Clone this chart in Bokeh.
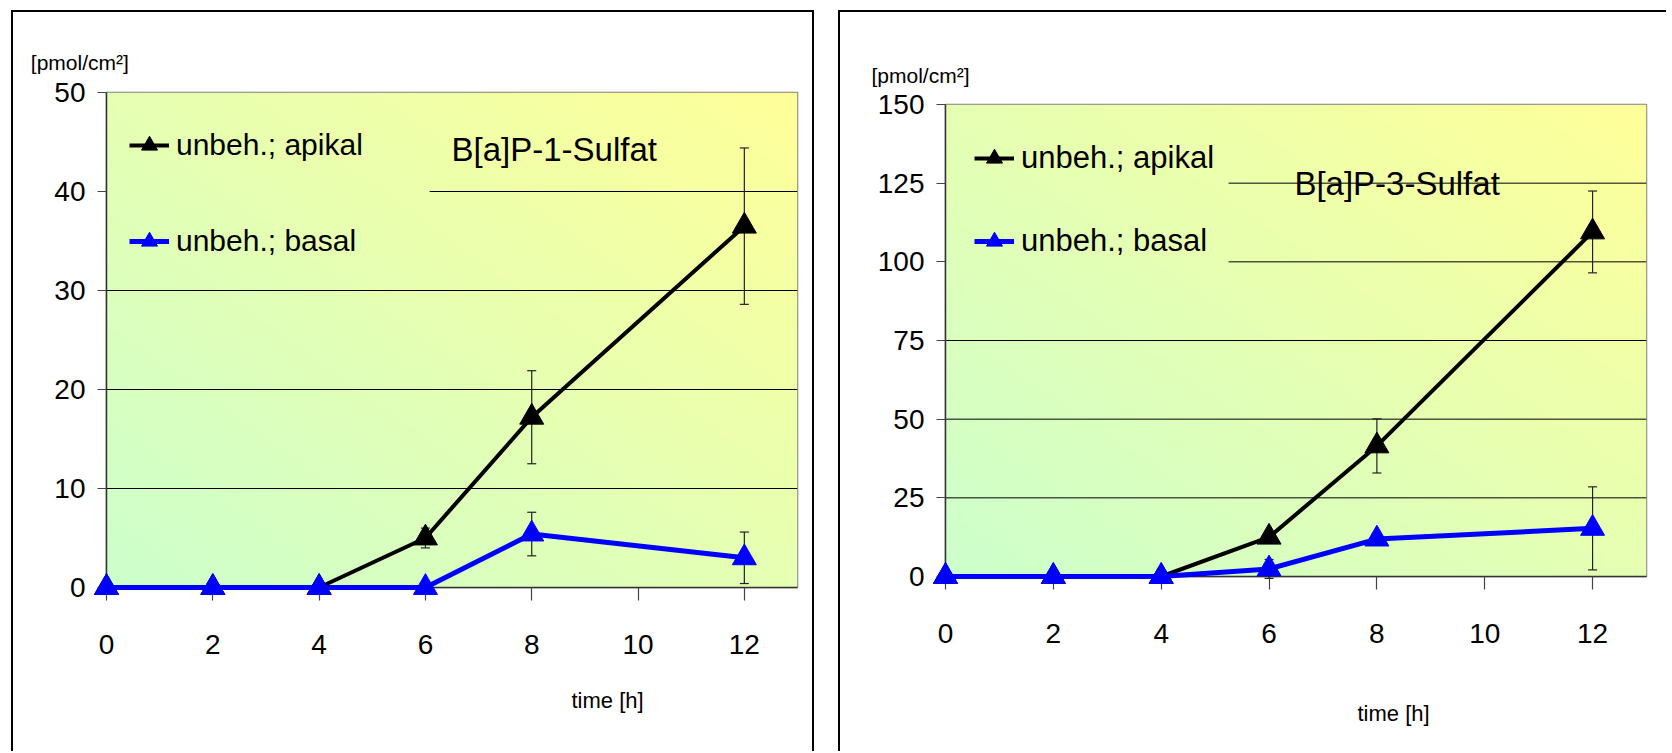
import numpy as np
from bokeh.plotting import figure
from bokeh.layouts import row
from bokeh.models import Range1d, FixedTicker, Label, Title
from bokeh.embed import file_html
from bokeh.resources import INLINE

# ---------------- data ----------------
TIME_H = [0, 2, 4, 6, 8, 12]
X_TICKS = [0, 2, 4, 6, 8, 10, 12]
SERIES_NAMES = ["unbeh.; apikal", "unbeh.; basal"]
Y_UNIT = "[pmol/cm²]"
X_LABEL = "time [h]"

S1_TITLE = "B[a]P-1-Sulfat"
S1_Y_TICKS = [0, 10, 20, 30, 40, 50]
S1_APIKAL = [0, 0, 0, 5.0, 17.2, 36.5]
S1_APIKAL_ERR = [0, 0, 0, 1.0, 4.7, 7.9]
S1_BASAL = [0, 0, 0, 0, 5.4, 3.0]
S1_BASAL_ERR = [0, 0, 0, 0, 2.2, 2.6]

S3_TITLE = "B[a]P-3-Sulfat"
S3_Y_TICKS = [0, 25, 50, 75, 100, 125, 150]
S3_APIKAL = [0, 0, 0, 12.5, 41.5, 109.5]
S3_APIKAL_ERR = [0, 0, 0, 1.5, 8.6, 13.0]
S3_BASAL = [0, 0, 0, 2.4, 11.9, 15.3]
S3_BASAL_ERR = [0, 0, 0, 3.0, 1.5, 13.2]

# ---------------- style ----------------
FONT = "Liberation Sans"
X_MAX = 13
COLORS = ["#000000", "#0000FF"]
LINE_W = [4, 5]


def gradient(nx=256, ny=256):
    u = np.linspace(0, 1, nx)[None, :]
    v = np.linspace(0, 1, ny)[:, None]
    t = (u + v) / 2.0
    c0 = np.array([0xCC, 0xFF, 0xCC], dtype=float)
    c1 = np.array([0xFF, 0xFF, 0x99], dtype=float)
    rgb = c0[None, None, :] + t[..., None] * (c1 - c0)[None, None, :]
    img = np.empty((ny, nx), dtype=np.uint32)
    view = img.view(dtype=np.uint8).reshape((ny, nx, 4))
    view[..., 0:3] = rgb.round().astype(np.uint8)
    view[..., 3] = 255
    return img


def panel(cfg):
    p = figure(width=cfg["width"], height=cfg["height"],
               x_range=Range1d(0, X_MAX), y_range=Range1d(0, cfg["y_ticks"][-1]),
               output_backend="svg", toolbar_location=None,
               min_border_left=cfg["borders"][0], min_border_right=cfg["borders"][1],
               min_border_top=cfg["borders"][2], min_border_bottom=cfg["borders"][3],
               frame_align=False, styles=cfg["styles"])
    p.outline_line_color = "#808080"
    p.outline_line_width = 1.5
    p.xgrid.visible = False
    p.ygrid.visible = False

    p.image_rgba(image=[gradient()], x=0, y=0, dw=X_MAX, dh=cfg["y_ticks"][-1], level="image")

    gy = cfg["y_ticks"][1:-1]
    p.segment(x0=cfg["grid_start"], y0=gy, x1=[X_MAX] * len(gy), y1=gy,
              line_color="#000000", line_width=1)

    p.xaxis.ticker = FixedTicker(ticks=X_TICKS)
    p.yaxis.ticker = FixedTicker(ticks=cfg["y_ticks"])
    for ax in (p.xaxis[0], p.yaxis[0]):
        ax.axis_line_color = "#333333"
        ax.axis_line_width = 1.5
        ax.major_tick_line_color = "#444444"
        ax.major_tick_line_width = 1.2
        ax.major_tick_in = 0
        ax.minor_tick_line_color = None
        ax.major_label_text_font = FONT
        ax.major_label_text_font_size = "28px"
        ax.major_label_text_color = "#000000"
    p.xaxis.major_tick_out = 13
    p.yaxis.major_tick_out = 9
    p.xaxis.major_label_standoff = 34
    p.yaxis.major_label_standoff = 12

    for vals, errs in zip(cfg["values"], cfg["errors"]):
        idx = [i for i, e in enumerate(errs) if e > 0]
        xs = [TIME_H[i] for i in idx]
        hi = [vals[i] + errs[i] for i in idx]
        lo = [vals[i] - errs[i] for i in idx]
        p.segment(x0=xs, y0=lo, x1=xs, y1=hi, line_color="#222222", line_width=1.2, level="overlay")
        p.scatter(xs, hi, marker="dash", size=9, line_color="#222222", line_width=1.2, level="overlay")
        p.scatter(xs, lo, marker="dash", size=9, line_color="#222222", line_width=1.2, level="overlay")
    for vals, name, col, lw in zip(cfg["values"], SERIES_NAMES, COLORS, LINE_W):
        p.line(TIME_H, vals, line_color=col, line_width=lw, legend_label=name, level="overlay")
        p.scatter(TIME_H, vals, marker="triangle", size=24, fill_color=col, line_color=col,
                  legend_label=name, level="overlay")

    lg = p.legend[0]
    lg.location = cfg["legend_loc"]
    lg.padding = 0
    lg.margin = 0
    lg.spacing = cfg["legend_spacing"]
    lg.glyph_width = 40
    lg.glyph_height = 44
    lg.label_height = 44
    lg.label_standoff = 7
    lg.label_text_font = FONT
    lg.label_text_font_size = cfg["legend_font"]
    lg.label_text_color = "#000000"
    lg.background_fill_alpha = 0
    lg.border_line_color = None

    tx, ty = cfg["title_pos"]
    p.add_layout(Label(x=tx, y=ty, text=cfg["title"], text_font=FONT, text_font_size="33px",
                       text_color="#000000", text_align="left", text_baseline="alphabetic"))
    uo, us = cfg["unit_title"]
    p.add_layout(Title(text=Y_UNIT, align="left", offset=uo, standoff=us, text_font=FONT,
                       text_font_size="21px", text_font_style="normal", text_color="#000000"),
                 "above")
    xo, gap = cfg["xlabel_title"]
    # invisible spacer between the x axis and its label
    p.add_layout(Title(text=" ", standoff=gap, text_font=FONT, text_font_size="22px"), "below")
    p.add_layout(Title(text=X_LABEL, align="left", offset=xo, standoff=0, text_font=FONT,
                       text_font_size="22px", text_font_style="normal", text_color="#000000"),
                 "below")
    return p


left = panel(dict(
    width=803, height=741, borders=(93, 19, 80, 166),
    styles={"margin-left": "11px", "margin-top": "10px",
            "border-left": "2px solid black", "border-top": "2px solid black",
            "border-right": "2px solid black"},
    y_ticks=S1_Y_TICKS, values=[S1_APIKAL, S1_BASAL], errors=[S1_APIKAL_ERR, S1_BASAL_ERR],
    grid_start=[0, 0, 0, 6.08], legend_loc=(23, 324), legend_spacing=52, legend_font="30px",
    title=S1_TITLE, title_pos=(6.49, 44.28), unit_title=(-75.7, 37), xlabel_title=(465, 1.5),
))
right = panel(dict(
    width=828, height=741, borders=(105, 22, 92, 177),
    styles={"margin-left": "24px", "margin-top": "10px",
            "border-left": "2px solid black", "border-top": "2px solid black"},
    y_ticks=S3_Y_TICKS, values=[S3_APIKAL, S3_BASAL], errors=[S3_APIKAL_ERR, S3_BASAL_ERR],
    grid_start=[0, 0, 0, 5.25, 5.25], legend_loc=(29, 313), legend_spacing=39, legend_font="31px",
    title=S3_TITLE, title_pos=(6.47, 124.9), unit_title=(-74, 36), xlabel_title=(412, 26),
))

layout = row(left, right, spacing=0)
open("out.html", "w").write(file_html(layout, INLINE))
